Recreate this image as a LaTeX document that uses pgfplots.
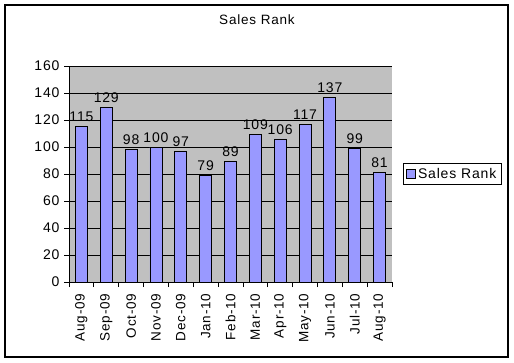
\documentclass[border=0pt]{standalone}
\usepackage{pgfplots}
\pgfplotsset{compat=1.18}
\usepackage{fontspec}
\setmainfont[LetterSpace=6]{Liberation Sans}
\definecolor{plotbg}{RGB}{192,192,192}
\definecolor{barfill}{RGB}{153,153,255}
\begin{document}
\begin{tikzpicture}
\path[use as bounding box] (0pt,0pt) rectangle (514pt,362pt);
\draw[line width=1.1pt] (5pt,5pt) rectangle (508pt,357pt);
\node at (257pt,342pt) {\fontsize{13.5}{16}\selectfont Sales Rank};
\begin{axis}[
  at={(69pt,80pt)}, anchor=south west,
  scale only axis, width=323pt, height=216pt,
  xmin=-0.5, xmax=12.5, ymin=0, ymax=160,
  ytick={0,20,...,160},
  xtick={0,...,12},
  xticklabels={Aug-09,Sep-09,Oct-09,Nov-09,Dec-09,Jan-10,Feb-10,Mar-10,Apr-10,May-10,Jun-10,Jul-10,Aug-10},
  x tick label style={rotate=90, anchor=east, font=\fontsize{13.5}{16}\selectfont},
  y tick label style={font=\fontsize{14}{16}\selectfont},
  /pgf/number format/assume math mode=true,
  tick align=outside,
  x tick style={draw=none},
  xtick pos=bottom, ytick pos=left,
  major tick length=5pt,
  extra x ticks={-0.5,0.5,1.5,2.5,3.5,4.5,5.5,6.5,7.5,8.5,9.5,10.5,11.5,12.5},
  extra x tick labels={},
  extra x tick style={x tick style={draw=black, line width=0.8pt}, major tick length=5pt},
  ymajorgrids, grid style={black, line width=0.8pt},
  axis background/.style={fill=plotbg},
  axis line style={line width=0.8pt},
  axis x line*=bottom, axis y line*=left,
  y tick style={line width=0.8pt, black},
  xticklabel shift=3pt,
  yticklabel shift=1pt,
  ybar, bar width=12pt,
  nodes near coords,
  nodes near coords style={font=\fontsize{14}{16}\selectfont, /pgf/number format/assume math mode=true, yshift=1pt},
  legend style={at={(1,0.5)}, anchor=west, xshift=11pt, draw=black, line width=0.8pt, font=\fontsize{14}{16}\selectfont, inner xsep=3pt, inner ysep=3pt, row sep=0pt},
  legend image code/.code={\draw[#1, line width=0.6pt] (0pt,-4.5pt) rectangle (9pt,4.5pt);},
]
\addplot[fill=barfill, draw=black, line width=0.8pt] coordinates {
(0,115) (1,129) (2,98) (3,100) (4,97) (5,79) (6,89) (7,109) (8,106) (9,117) (10,137) (11,99) (12,81)};
\legend{Sales Rank}
\end{axis}
\end{tikzpicture}
\end{document}
